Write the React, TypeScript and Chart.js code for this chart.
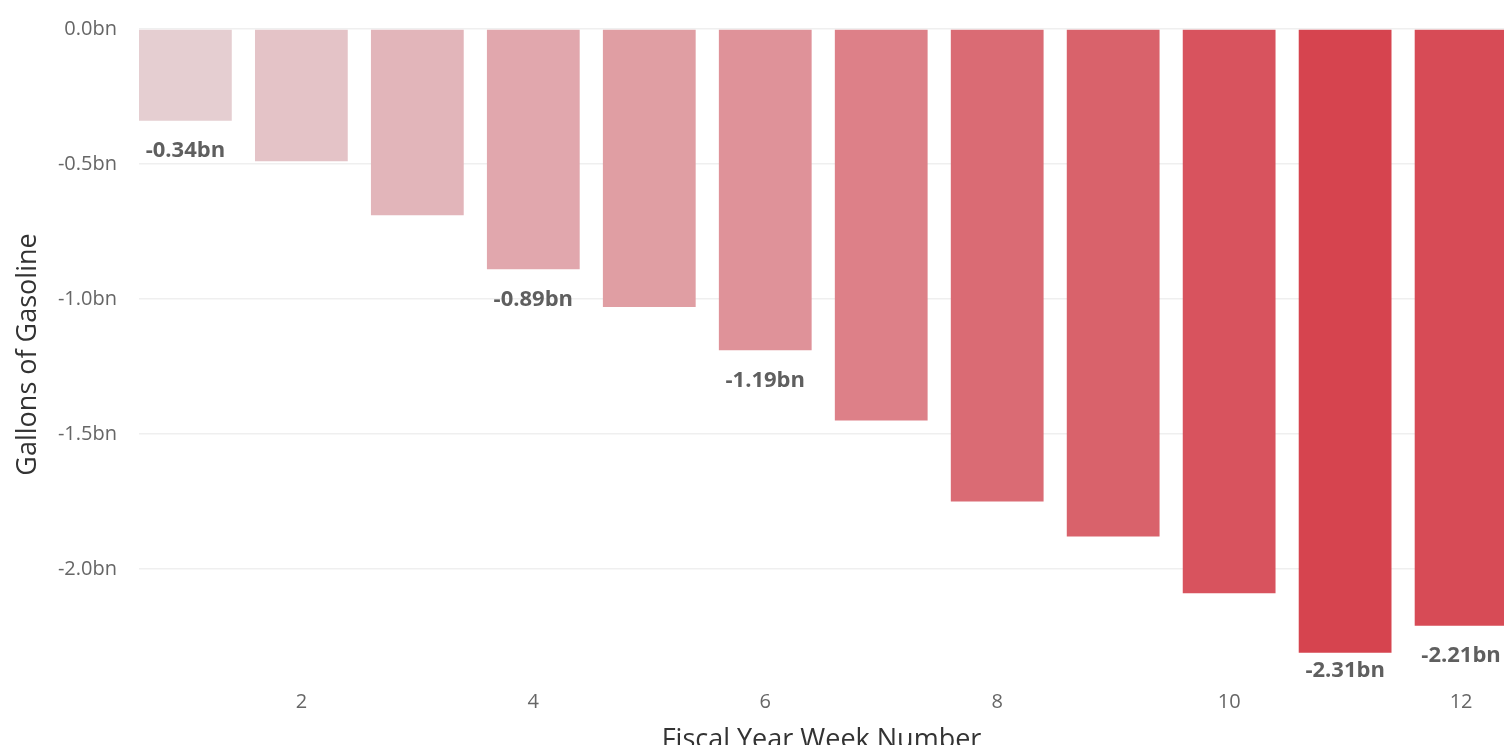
import React, { useEffect, useRef } from "react";
import { Chart, registerables } from "chart.js";

Chart.register(...registerables);

const weeks = [1, 2, 3, 4, 5, 6, 7, 8, 9, 10, 11, 12];
const gallonsBn = [-0.34, -0.49, -0.69, -0.89, -1.03, -1.19, -1.45, -1.75, -1.88, -2.09, -2.31, -2.21];
const labelledWeeks = [1, 4, 6, 11, 12];
const yTickValues = [0, -0.5, -1.0, -1.5, -2.0];
const xTickValues = [2, 4, 6, 8, 10, 12];

const FONT = "'Open Sans', 'Noto Sans', sans-serif";
const W = 1504;
const H = 761;

const lightRGB = [229, 206, 209];
const darkRGB = [214, 68, 79];

function colorFor(v: number): string {
  const lo = Math.max(...gallonsBn);
  const hi = Math.min(...gallonsBn);
  const t = (v - lo) / (hi - lo);
  const c = lightRGB.map((l, i) => Math.round(l + (darkRGB[i] - l) * t));
  return `rgb(${c[0]},${c[1]},${c[2]})`;
}

const labelPlugin = {
  id: "barLabels",
  afterDatasetsDraw(chart: any) {
    const { ctx, chartArea } = chart;
    const meta = chart.getDatasetMeta(0);
    ctx.save();
    ctx.font = `bold 22px ${FONT}`;
    ctx.fillStyle = "#5f5f5f";
    ctx.textAlign = "center";
    ctx.textBaseline = "middle";
    meta.data.forEach((bar: any, i: number) => {
      if (!labelledWeeks.includes(weeks[i])) return;
      const y = Math.min(bar.y + 30, chartArea.bottom - 9);
      ctx.fillText(gallonsBn[i].toFixed(2) + "bn", bar.x, y);
    });
    ctx.restore();
  },
};

export default function App() {
  const ref = useRef<HTMLCanvasElement>(null);
  useEffect(() => {
    if (!ref.current) return;
    const chart = new Chart(ref.current, {
      type: "bar",
      data: {
        datasets: [
          {
            data: weeks.map((w, i) => ({ x: w, y: gallonsBn[i] })),
            backgroundColor: gallonsBn.map(colorFor),
            borderWidth: 0,
            barPercentage: 1,
            categoryPercentage: 0.8,
          },
        ],
      },
      options: {
        responsive: false,
        animation: false,
        devicePixelRatio: 1,
        layout: { padding: { top: 29, left: 0, right: 0, bottom: 0 } },
        plugins: { legend: { display: false }, tooltip: { enabled: false } },
        scales: {
          x: {
            type: "linear",
            offset: false,
            min: 0.6,
            max: 12.37,
            grid: { display: false, drawTicks: false },
            border: { display: false },
            afterBuildTicks: (s: any) => {
              s.ticks = xTickValues.map((v) => ({ value: v }));
            },
            afterFit: (s: any) => {
              s.height = H - 680;
            },
            ticks: {
              padding: 10,
              color: "#666666",
              font: { family: FONT, size: 20 },
              callback: (v: any) => String(v),
            },
            title: {
              display: true,
              text: "Fiscal Year Week Number",
              color: "#333333",
              font: { family: FONT, size: 27 },
              padding: { top: 4, bottom: 4 },
            },
          },
          y: {
            type: "linear",
            min: -2.411,
            max: 0,
            grid: {
              color: "#efefef",
              lineWidth: 1.5,
              drawTicks: true,
              tickLength: 17,
              tickColor: "rgba(0,0,0,0)",
            },
            border: { display: false },
            afterBuildTicks: (s: any) => {
              s.ticks = yTickValues.map((v) => ({ value: v }));
            },
            afterFit: (s: any) => {
              s.width = 139;
            },
            ticks: {
              padding: 5,
              color: "#666666",
              font: { family: FONT, size: 20 },
              callback: (v: any) => Number(v).toFixed(1) + "bn",
            },
            title: {
              display: true,
              text: "Gallons of Gasoline",
              color: "#333333",
              font: { family: FONT, size: 27 },
              padding: { top: 12, bottom: 4 },
            },
          },
        },
      },
      plugins: [labelPlugin],
    });
    return () => chart.destroy();
  }, []);
  return (
    <div style={{ position: "absolute", left: 0, top: 0, width: W, height: H }}>
      <canvas ref={ref} width={W} height={H} style={{ display: "block" }} />
    </div>
  );
}
